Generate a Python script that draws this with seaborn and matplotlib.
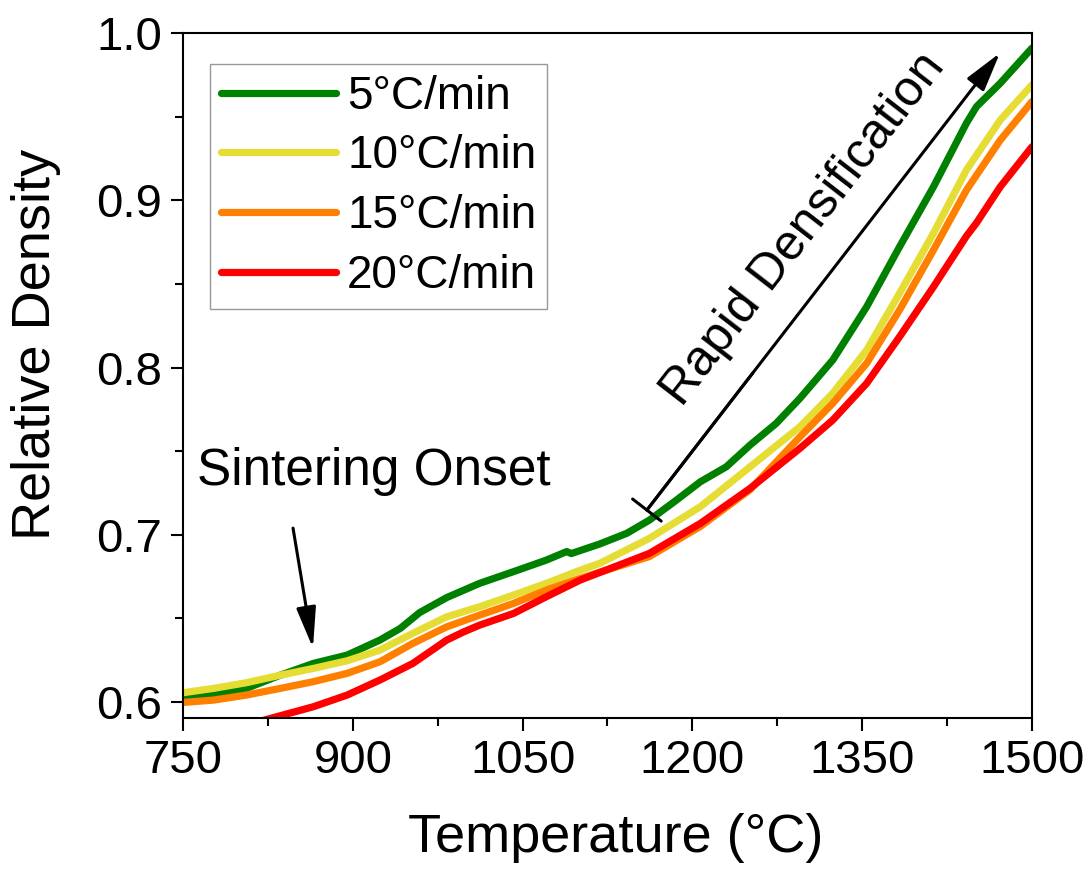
import numpy as np
import pandas as pd
import matplotlib
matplotlib.use("Agg")
import matplotlib.pyplot as plt
import seaborn as sns

# ---- data ----
t_5 = [750, 777, 806, 836, 865, 895, 924, 942, 959, 983, 1012, 1042, 1071, 1089, 1093,
       1118, 1142, 1162, 1186, 1207, 1230, 1251, 1274, 1295, 1324, 1354, 1383, 1413, 1442,
       1451, 1472, 1500]
d_5 = [0.6025, 0.6042, 0.6082, 0.6161, 0.6231, 0.6281, 0.6371, 0.6441, 0.6535, 0.6625, 0.671,
       0.678, 0.6849, 0.690, 0.6888, 0.6945, 0.7009, 0.7088, 0.7208, 0.7317, 0.7407, 0.7537,
       0.7666, 0.7816, 0.8045, 0.8364, 0.8722, 0.9081, 0.946, 0.956, 0.970, 0.991]

t_10 = [750, 777, 806, 836, 865, 895, 924, 953, 983, 1012, 1042, 1071, 1101, 1118, 1162,
        1207, 1251, 1295, 1324, 1354, 1383, 1413, 1442, 1472, 1500]
d_10 = [0.6056, 0.6082, 0.6116, 0.6161, 0.6201, 0.6247, 0.6311, 0.6411, 0.651, 0.657, 0.664,
        0.671, 0.6789, 0.6829, 0.6979, 0.7168, 0.7407, 0.7646, 0.7846, 0.8105, 0.8444, 0.8804,
        0.918, 0.948, 0.969]

t_15 = [750, 777, 806, 836, 865, 895, 924, 953, 983, 1012, 1042, 1071, 1101, 1162, 1207,
        1251, 1295, 1324, 1354, 1383, 1413, 1442, 1472, 1500]
d_15 = [0.5998, 0.6012, 0.6042, 0.6082, 0.6122, 0.6172, 0.6241, 0.6351, 0.645, 0.652, 0.659,
        0.667, 0.674, 0.687, 0.705, 0.727, 0.7586, 0.7786, 0.8026, 0.8344, 0.8703, 0.906,
        0.936, 0.959]

t_20 = [815, 865, 895, 924, 953, 983, 998, 1012, 1042, 1071, 1101, 1162, 1207, 1251, 1295,
        1324, 1354, 1383, 1413, 1442, 1451, 1472, 1500]
d_20 = [0.588, 0.5972, 0.6042, 0.6132, 0.6231, 0.6371, 0.642, 0.646, 0.653, 0.663, 0.673,
        0.6889, 0.7068, 0.7278, 0.7517, 0.7686, 0.7906, 0.8184, 0.8483, 0.8785, 0.8865,
        0.9081, 0.932]

labels = ["5°C/min", "10°C/min", "15°C/min", "20°C/min"]
colors = ["#008000", "#E5DD33", "#FF8000", "#FF0000"]
x_ticks = [750, 900, 1050, 1200, 1350, 1500]
y_ticks = [0.6, 0.7, 0.8, 0.9, 1.0]

frames = []
for lab, t, d in zip(labels, [t_5, t_10, t_15, t_20], [d_5, d_10, d_15, d_20]):
    frames.append(pd.DataFrame({"T": t, "rho": d, "rate": lab}))
df = pd.concat(frames, ignore_index=True)

sns.set_style("ticks")
plt.rcParams["font.family"] = ["Liberation Sans", "DejaVu Sans"]
plt.rcParams["text.color"] = "black"
plt.rcParams["axes.labelcolor"] = "black"
plt.rcParams["xtick.color"] = "black"
plt.rcParams["ytick.color"] = "black"

fig = plt.figure(figsize=(10.91, 8.76), dpi=100)
ax = fig.add_axes([183/1091, 1-718/876, (1032-183)/1091, (718-33)/876])

sns.lineplot(data=df, x="T", y="rho", hue="rate", palette=colors, hue_order=labels,
             estimator=None, sort=False, linewidth=5.2, ax=ax, legend=True)
for ln in ax.get_lines():
    ln.set_solid_joinstyle("round")

ax.set_xlim(750, 1500)
ax.set_ylim(0.5905, 1.0)
ax.set_xticks(x_ticks)
ax.set_xticklabels([str(v) for v in x_ticks])
ax.set_yticks(y_ticks)
ax.set_yticklabels([f"{v:.1f}" for v in y_ticks])
ax.set_xticks([825, 975, 1125, 1275, 1425], minor=True)
ax.set_yticks([0.65, 0.75, 0.85, 0.95], minor=True)
ax.tick_params(axis="both", which="major", direction="out", length=9, width=1.5,
               labelsize=34, pad=6, color="black", labelcolor="black")
ax.tick_params(axis="both", which="minor", direction="out", length=5.5, width=1.5, color="black")
for s in ax.spines.values():
    s.set_linewidth(1.5)
    s.set_color("black")

ax.set_xlabel("Temperature (°C)", fontsize=39)
ax.set_ylabel("Relative Density", fontsize=39)
ax.xaxis.set_label_coords(0.51, -0.138)
ax.yaxis.set_label_coords(-0.144, 0.545)

leg = ax.legend(loc="upper left", bbox_to_anchor=(0.032, 0.955), borderaxespad=0,
                fontsize=33, handlelength=2.5, handletextpad=0.25, labelspacing=0.34,
                borderpad=0.24, frameon=True, fancybox=False)
leg.get_frame().set_edgecolor("#7f7f7f")
leg.get_frame().set_linewidth(1.0)
for h in leg.get_lines():
    h.set_linewidth(5.2)
    h.set_solid_capstyle("round")

# annotations
ax.text(762, 0.7295, "Sintering Onset", fontsize=37, ha="left", va="baseline")
ax.annotate("", xy=(864.8, 0.6323), xytext=(847.2, 0.704),
            arrowprops=dict(arrowstyle="-|>,head_length=2.5,head_width=0.6", lw=2.2, color="black",
                            shrinkA=0, shrinkB=0))
ax.annotate("", xy=(1471.6, 0.988), xytext=(1159.8, 0.7148),
            arrowprops=dict(arrowstyle="-|>,head_length=2.4,head_width=0.65", lw=2.2,
                            color="black", shrinkA=0, shrinkB=0))
ax.annotate("", xy=(1253.3, 0.7967), xytext=(1159.8, 0.7148),
            arrowprops=dict(arrowstyle="]-,widthA=1.3,lengthA=0", lw=2.2,
                            color="black", shrinkA=0, shrinkB=0))
ax.text(1298, 0.8825, "Rapid Densification", fontsize=36, rotation=52.3,
        ha="center", va="center", rotation_mode="anchor")

fig.savefig("out.png", dpi=100)
